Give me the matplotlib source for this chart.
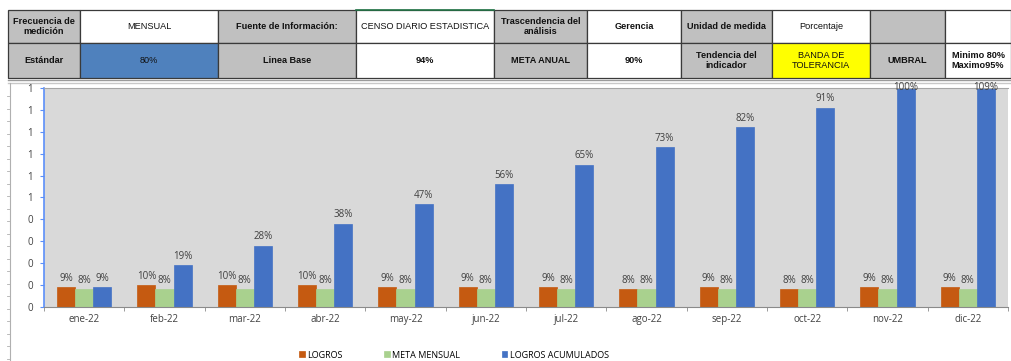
import matplotlib
matplotlib.use("Agg")
import matplotlib.pyplot as plt
from matplotlib.patches import Rectangle
from matplotlib.ticker import MultipleLocator, FuncFormatter
import numpy as np

# monthly indicator data
meses = ["ene-22", "feb-22", "mar-22", "abr-22", "may-22", "jun-22",
         "jul-22", "ago-22", "sep-22", "oct-22", "nov-22", "dic-22"]
logros = [0.09, 0.10, 0.10, 0.10, 0.09, 0.09, 0.09, 0.08, 0.09, 0.08, 0.09, 0.09]
meta_mensual = [0.08] * 12
logros_acumulados = [0.09, 0.19, 0.28, 0.38, 0.47, 0.56, 0.65, 0.73, 0.82, 0.91, 1.00, 1.09]

series_names = ["LOGROS", "META MENSUAL", "LOGROS ACUMULADOS"]
series_colors = ["#C55A11", "#A9D18E", "#4472C4"]

# header table: (text, fill, bold) per cell
col_edges = [8, 80, 218, 356, 494, 587, 681, 772, 870, 945, 1011]
row1 = [("Frecuencia de\nmedición", "#C0C0C0", True),
        ("MENSUAL", "white", False),
        ("Fuente de Información:", "#C0C0C0", True),
        ("CENSO DIARIO ESTADISTICA", "white", False),
        ("Trascendencia del\nanálisis", "#C0C0C0", True),
        ("Gerencia", "white", True),
        ("Unidad de medida", "#C0C0C0", True),
        ("Porcentaje", "white", False),
        ("", "#C0C0C0", False),
        ("", "white", False)]
row2 = [("Estándar", "#C0C0C0", True),
        ("80%", "#4F81BD", False),
        ("Linea Base", "#C0C0C0", True),
        ("94%", "white", True),
        ("META ANUAL", "#C0C0C0", True),
        ("90%", "white", True),
        ("Tendencia del\nindicador", "#C0C0C0", True),
        ("BANDA DE\nTOLERANCIA", "#FFFF00", False),
        ("UMBRAL", "#C0C0C0", True),
        ("Minimo 80%\nMaximo95%", "white", True)]
row_edges = [10, 43, 78]

W, H = 1011, 361
fig = plt.figure(figsize=(W / 100, H / 100), dpi=100)
fig.patch.set_facecolor("white")

# overlay in pixel coordinates for the table and sheet lines
bg = fig.add_axes([0, 0, 1, 1])
bg.set_xlim(0, W)
bg.set_ylim(H, 0)
bg.axis("off")

for r, row in enumerate([row1, row2]):
    y0, y1 = row_edges[r], row_edges[r + 1]
    for c, (txt, fill, bold) in enumerate(row):
        x0, x1 = col_edges[c], col_edges[c + 1]
        bg.add_patch(Rectangle((x0, y0), x1 - x0, y1 - y0, facecolor=fill,
                               edgecolor="#3a3a3a", linewidth=0.9))
        if txt:
            bg.text((x0 + x1) / 2, (y0 + y1) / 2, txt, ha="center", va="center",
                    fontsize=6.6, fontweight="bold" if bold else "normal",
                    family="Liberation Sans", color="#111111", linespacing=1.15)
# green selection edge on the source cell
bg.plot([356, 494], [10, 10], color="#217346", lw=1.2)

# sheet frame below the table
bg.plot([8, W], [80, 80], color="#9a9a9a", lw=1)
bg.plot([8, W], [83, 83], color="#c8c8c8", lw=1)
bg.plot([10, 10], [83, H], color="#b0b0b0", lw=0.8)
for yy in np.arange(96, H, 12.5):
    bg.plot([7, 10], [yy, yy], color="#b0b0b0", lw=0.6)

# bar chart
left, right, top, bottom = 44, 1008, 88, 307
ax = fig.add_axes([left / W, (H - bottom) / H, (right - left) / W, (bottom - top) / H])
ax.set_facecolor("#D9D9D9")

x = np.arange(len(meses))
bw = 0.225
ymax = 1.0
bars = []
for i, (vals, name, col) in enumerate(zip([logros, meta_mensual, logros_acumulados],
                                           series_names, series_colors)):
    b = ax.bar(x + (i - 1) * bw, vals, width=bw, color=col, edgecolor=col,
               linewidth=0.5, label=name, zorder=2)
    bars.append(b)
    for xi, v in zip(x + (i - 1) * bw, vals):
        if v < ymax:
            ax.annotate(f"{v * 100:.0f}%", (xi, v), xytext=(0, 2.5),
                        textcoords="offset points", ha="center", va="bottom",
                        fontsize=7, color="#404040", family="Open Sans",
                        annotation_clip=False)
        else:
            # bars past the axis top get their label on the top edge
            ax.annotate(f"{v * 100:.0f}%", (xi, ymax), xytext=(0, 0),
                        textcoords="offset points", ha="center", va="center",
                        fontsize=7, color="#404040", family="Open Sans",
                        annotation_clip=False, zorder=3)

ax.set_xlim(-0.5, len(meses) - 0.5)
ax.set_ylim(0, ymax)
ax.yaxis.set_major_locator(MultipleLocator(0.1))
ax.yaxis.set_major_formatter(FuncFormatter(lambda v, p: f"{int(np.floor(v + 0.5))}"))
ax.set_xticks(x)
ax.set_xticklabels(meses)
ax.set_xticks(np.arange(-0.5, len(meses), 1.0), minor=True)
ax.tick_params(axis="x", which="major", length=0, pad=5, labelsize=7,
               labelcolor="#404040")
ax.tick_params(axis="x", which="minor", length=3, color="#8a8a8a", direction="out")
ax.tick_params(axis="y", length=3, color="#5B8FF9", labelsize=7,
               labelcolor="#404040", pad=5)
for lbl in ax.get_xticklabels() + ax.get_yticklabels():
    lbl.set_family("Open Sans")

ax.spines["right"].set_visible(False)
ax.spines["top"].set_color("#a6a6a6")
ax.spines["bottom"].set_color("#8a8a8a")
ax.spines["left"].set_color("#5B8FF9")
ax.spines["left"].set_linewidth(1.2)

fig.legend(handles=bars, labels=series_names, loc="center",
           bbox_to_anchor=(454 / W, (H - 355) / H), ncol=3, frameon=False,
           handlelength=0.6, handleheight=0.6, handletextpad=0.3,
           columnspacing=4.6, borderpad=0.1,
           prop={"family": "Open Sans", "size": 6.5})

fig.savefig("out.png", dpi=100, facecolor="white")
